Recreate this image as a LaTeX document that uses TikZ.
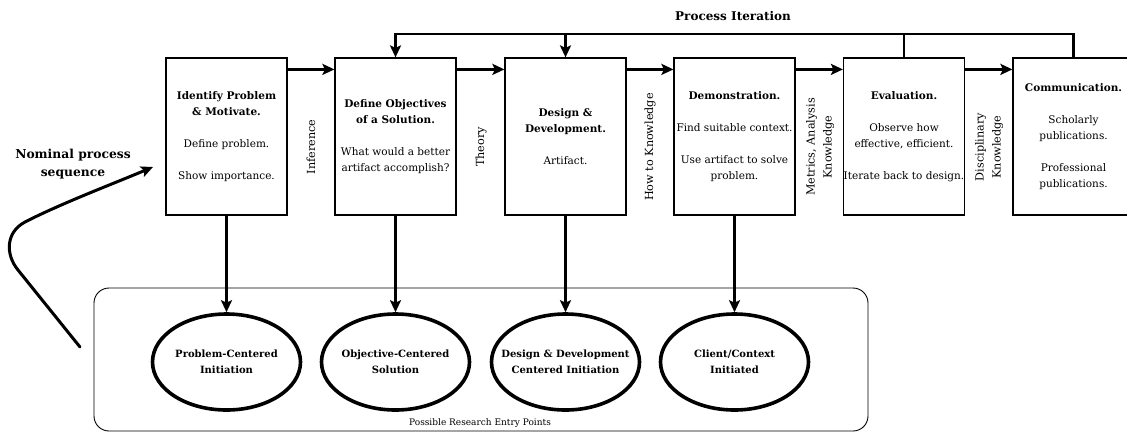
\documentclass[tikz,border=0pt]{standalone}
\usepackage{fontspec}
\setmainfont{DejaVu Serif}
\usetikzlibrary{arrows.meta,shapes.geometric}

\begin{document}
\begin{tikzpicture}[x=1pt,y=-1pt,
  txt/.style={font=\fontsize{10.5}{16}\selectfont},
  stage/.style={draw, line width=1.2pt, minimum width=121pt, minimum height=157pt,
    inner sep=0pt, align=center, txt},
  edgelabel/.style={rotate=90, align=center, inner sep=0pt, font=\fontsize{11.2}{17}\selectfont},
  entry/.style={ellipse, draw, line width=3.6pt, minimum width=148pt, minimum height=96pt,
    inner sep=0pt},
  entrytext/.style={align=center, inner sep=0pt, font=\fontsize{10}{16}\selectfont\bfseries},
  flow/.style={line width=2.5pt, -{Stealth[length=12pt,width=11pt,inset=2.5pt]}},
  plain/.style={line width=2.5pt}
]
\path[use as bounding box] (0,0) rectangle (1127,432);
\clip (0,0) rectangle (1127,432);

% container for the research entry points
\node[draw, line width=0.9pt, rounded corners=15pt, minimum width=774pt, minimum height=143pt,
  inner sep=0pt] (zone) at (481,359.5) {};
\node[font=\fontsize{9}{11}\selectfont, inner sep=0pt] (zonelabel) at (480,423) {Possible Research Entry Points};

% process stages
\node[stage] (b1) at (226.5,136.5) {\textbf{Identify Problem}\\\textbf{\& Motivate.}\\[16pt]Define problem.\\[16pt]Show importance.};
\node[stage] (b2) at (395.5,136.5) {\textbf{Define Objectives}\\\textbf{of a Solution.}\\[16pt]What would a better\\artifact accomplish?};
\node[stage] (b3) at (565.5,136.5) {\textbf{Design \&}\\\textbf{Development.}\\[16pt]Artifact.};
\node[stage] (b4) at (734.5,136.5) {\textbf{Demonstration.}\\[16pt]Find suitable context.\\[16pt]Use artifact to solve\\problem.};
\node[stage] (b5) at (904,136.5) {\textbf{Evaluation.}\\[16pt]Observe how\\effective, efficient.\\[16pt]Iterate back to design.};
\node[stage] (b6) at (1073.5,136.5) {\textbf{Communication.}\\[16pt]Scholarly\\publications.\\[16pt]Professional\\publications.};

% knowledge labels between stages
\node[edgelabel] (l1) at (311,147) {Inference};
\node[edgelabel] (l2) at (481,147) {Theory};
\node[edgelabel] (l3) at (650,147) {How to Knowledge};
\node[edgelabel] (l4) at (820,147) {Metrics, Analysis\\Knowledge};
\node[edgelabel] (l5) at (989,147) {Disciplinary\\Knowledge};

% sequence arrows
\foreach \a/\b in {b1/b2,b2/b3,b3/b4,b4/b5,b5/b6}
  \draw[flow] ([yshift=-12pt]\a.north east) -- ([yshift=-12pt]\b.north west);

% iteration loop
\coordinate (iter) at (0,34);
\node[font=\fontsize{12}{14}\selectfont\bfseries, inner sep=0pt] (iterlabel) at (733,16) {Process Iteration};
\draw[flow] (b6.north) -- (b6.north |- iter) -| (b2.north);
\draw[plain] (b5.north) -- (b5.north |- iter);
\draw[flow] (b3.north |- iter) -- (b3.north);

% entry points
\node[entry, label={[entrytext]center:{Problem-Centered\\Initiation}}] (e1) at (226.5,362) {};
\node[entry, label={[entrytext]center:{Objective-Centered\\Solution}}] (e2) at (395.5,362) {};
\node[entry, label={[entrytext]center:{Design \& Development\\Centered Initiation}}] (e3) at (565.5,362) {};
\node[entry, label={[entrytext]center:{Client/Context\\Initiated}}] (e4) at (734.5,362) {};
\foreach \a/\b in {b1/e1,b2/e2,b3/e3,b4/e4}
  \draw[flow] (\a.south) -- (\b.north);

% nominal sequence
\node[font=\fontsize{12.3}{18}\selectfont\bfseries, align=center, inner sep=0pt] (nominal) at (73,164) {Nominal process\\sequence};
\coordinate (nomstart) at (80,347);
\coordinate (nomtip) at (153,167);
\draw[flow, line width=3pt, line cap=round] (nomstart) -- (18,270) .. controls (5,254) and (6,232) .. (25,222)
  .. controls (60,204) and (110,185) .. (nomtip);
\end{tikzpicture}
\end{document}
